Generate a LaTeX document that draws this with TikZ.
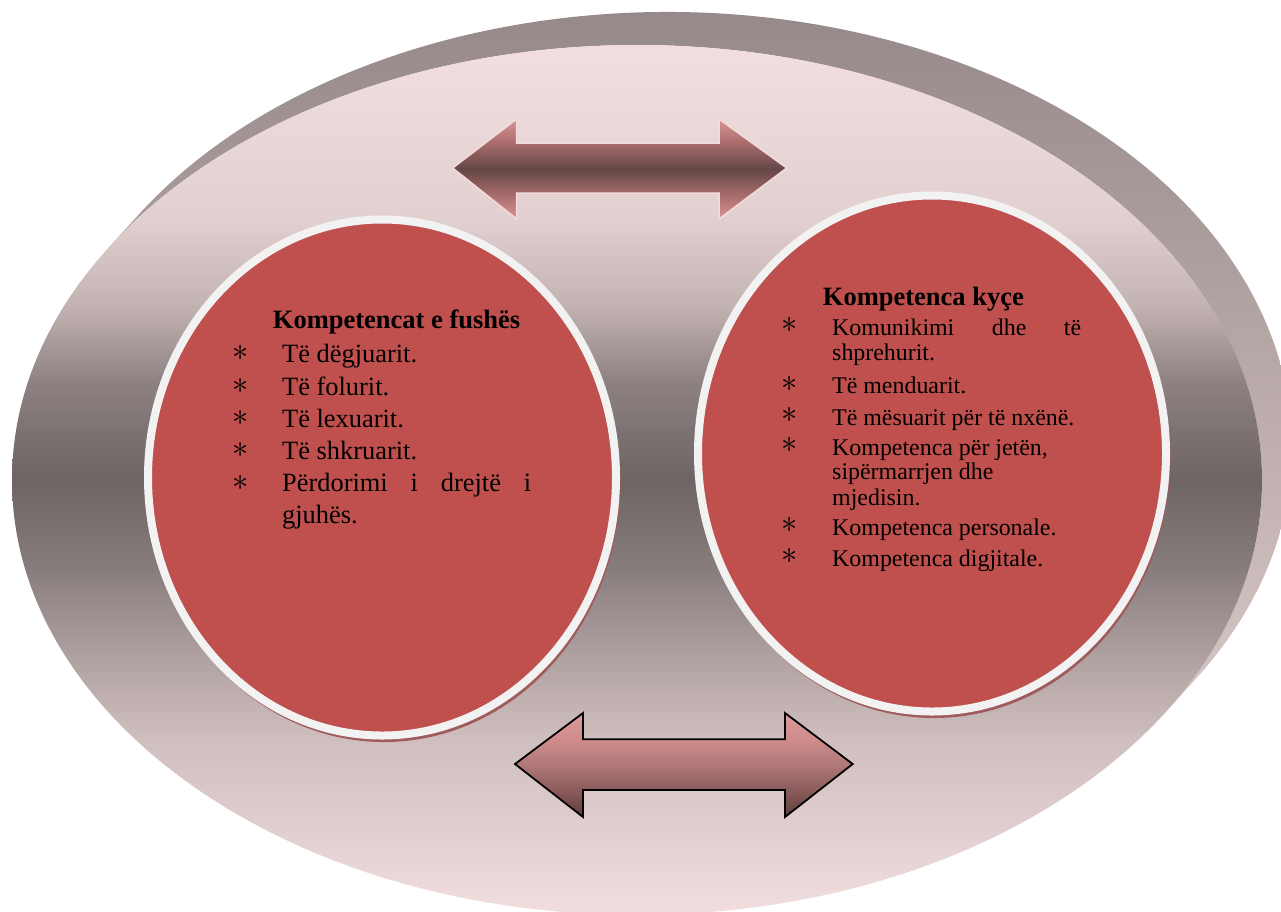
\documentclass[tikz,border=0pt]{standalone}
\usepackage{graphicx}
\usepackage{fontspec}
\setmainfont{Liberation Serif}
\usetikzlibrary{calc,shapes.geometric}

\definecolor{fA}{RGB}{242,222,222}
\definecolor{fB}{RGB}{226,208,208}
\definecolor{fC}{RGB}{195,178,178}
\definecolor{fD}{RGB}{140,128,128}
\definecolor{fE}{RGB}{110,100,100}
\definecolor{fF}{RGB}{135,124,124}
\definecolor{fG}{RGB}{175,160,160}
\definecolor{fH}{RGB}{208,191,191}
\definecolor{bandT}{RGB}{145,132,132}
\definecolor{bandB}{RGB}{216,198,198}
\definecolor{redfill}{HTML}{C0504D}
\definecolor{ringc}{HTML}{F2F2F2}
\definecolor{shadowc}{RGB}{160,92,92}
\definecolor{taA}{RGB}{217,148,148}
\definecolor{taB}{RGB}{168,108,108}
\definecolor{taC}{RGB}{101,70,70}
\definecolor{taEdge}{RGB}{242,220,219}
\definecolor{baA}{RGB}{222,154,154}
\definecolor{baB}{RGB}{208,140,140}
\definecolor{baC}{RGB}{176,120,120}
\definecolor{baD}{RGB}{138,90,90}
\definecolor{baE}{RGB}{94,60,60}

\pgfdeclareverticalshading{faceshade}{100bp}{color(0bp)=(fA); color(25bp)=(fA); color(35bp)=(fH); color(40bp)=(fG); color(45bp)=(fF); color(50bp)=(fE); color(55.5bp)=(fD); color(60bp)=(fC); color(65bp)=(fB); color(75bp)=(fA); color(100bp)=(fA)}
\pgfdeclareverticalshading{toparrshade}{100bp}{color(0bp)=(taA); color(25bp)=(taA); color(37bp)=(taB); color(50bp)=(taC); color(63bp)=(taB); color(75bp)=(taA); color(100bp)=(taA)}
\pgfdeclareverticalshading{botarrshade}{100bp}{color(0bp)=(baE); color(25bp)=(baE); color(37.5bp)=(baD); color(50bp)=(baC); color(62.5bp)=(baB); color(75bp)=(baA); color(100bp)=(baA)}

\newcommand{\bulstar}{\raisebox{-7.8pt}[6pt][6pt]{\scalebox{1.3}{$\ast$}}}

\tikzset{
  circnode/.style={ellipse, fill=redfill, draw=ringc, line width=8pt, minimum width=468pt, minimum height=516pt, inner sep=0pt, outer sep=0pt},
  ttl/.style={anchor=base west, inner sep=0pt, font=\fontsize{26.5}{30}\selectfont\bfseries},
  ltx/.style={anchor=base west, inner sep=0pt, font=\fontsize{26.4}{30}\selectfont},
  rtx/.style={anchor=base west, inner sep=0pt, font=\fontsize{23.9}{27}\selectfont},
  bul/.style={anchor=center, inner sep=0pt, font=\fontsize{24.88}{28}\selectfont},
  toparr/.style={shade, shading=toparrshade, draw=taEdge, line width=1.5pt, line join=miter},
  botarr/.style={shade, shading=botarrshade, draw=black, line width=1.8pt, line join=miter},
}

\begin{document}
\begin{tikzpicture}[x=1pt,y=-1pt]
\useasboundingbox (0,0) rectangle (1281,911);
\coordinate (bc) at (667,447);
\coordinate (fc) at (637,480);
\begin{scope}
\clip (0,0) rectangle (1281,911);
% extruded side of the big ellipse
\path[shade, top color=bandT, bottom color=bandB]
  ($(bc)+(212.3:625 and 435)$) arc[start angle=212.3, end angle=392.3, x radius=625, y radius=435]
  -- ($(fc)+(32.3:625 and 435)$) arc[start angle=32.3, end angle=-147.7, x radius=625, y radius=435] -- cycle;
% front face
\path[shade, shading=faceshade] (fc) ellipse[x radius=625, y radius=435];
\end{scope}

% circles with shadows
\fill[shadowc] (384,481.5) ellipse[x radius=236.5, y radius=260.5];
\node[circnode] (leftc) at (382,477.5) {};
\fill[shadowc] (934,457.5) ellipse[x radius=236.5, y radius=260.5];
\node[circnode] (rightc) at (932,453.5) {};

% arrows
\path[toparr] (452.7,168) -- (516.7,119) -- (516.7,143) -- (719,143) -- (719,119) -- (786.7,168) -- (719,219) -- (719,193) -- (516.7,193) -- (516.7,219) -- cycle;
\path[botarr] (515,764) -- (583,713) -- (583,739.3) -- (785,739.3) -- (785,713) -- (852.7,764) -- (785,817) -- (785,790) -- (583,790) -- (583,817) -- cycle;

% left text
\node[ttl] (lt) at (272.7,328.3) {Kompetencat e fushës};
\node[bul] (lb1) at (240.7,353) {\bulstar};
\node[bul] (lb2) at (240.7,385.3) {\bulstar};
\node[bul] (lb3) at (240.7,417.6) {\bulstar};
\node[bul] (lb4) at (240.7,449.9) {\bulstar};
\node[bul] (lb5) at (240.7,482.2) {\bulstar};
\node[ltx] (l1) at (282,362.7) {Të dëgjuarit.};
\node[ltx] (l2) at (282,395) {Të folurit.};
\node[ltx] (l3) at (282,427.3) {Të lexuarit.};
\node[ltx] (l4) at (282,459.6) {Të shkruarit.};
\node[ltx] (l5) at (282,491.9) {\makebox[249pt][s]{Përdorimi i drejtë i}};
\node[ltx] (l6) at (282,523.5) {gjuhës.};

% right text
\node[ttl] (rt) at (822.7,305) {Kompetenca kyçe};
\node[bul] (rb1) at (790,325) {\bulstar};
\node[bul] (rb2) at (790,383.3) {\bulstar};
\node[bul] (rb3) at (790,415) {\bulstar};
\node[bul] (rb4) at (790,445) {\bulstar};
\node[bul] (rb5) at (790,525) {\bulstar};
\node[bul] (rb6) at (790,556) {\bulstar};
\node[rtx] (r1) at (832,335) {\makebox[249pt][s]{Komunikimi dhe të}};
\node[rtx] (r1b) at (832,360) {shprehurit.};
\node[rtx] (r2) at (832,393.3) {Të menduarit.};
\node[rtx] (r3) at (832,425) {Të mësuarit për të nxënë.};
\node[rtx] (r4) at (832,455) {Kompetenca për jetën,};
\node[rtx] (r4b) at (832,479.5) {sipërmarrjen dhe};
\node[rtx] (r4c) at (832,505) {mjedisin.};
\node[rtx] (r5) at (832,535) {Kompetenca personale.};
\node[rtx] (r6) at (832,566) {Kompetenca digjitale.};
\end{tikzpicture}
\end{document}
